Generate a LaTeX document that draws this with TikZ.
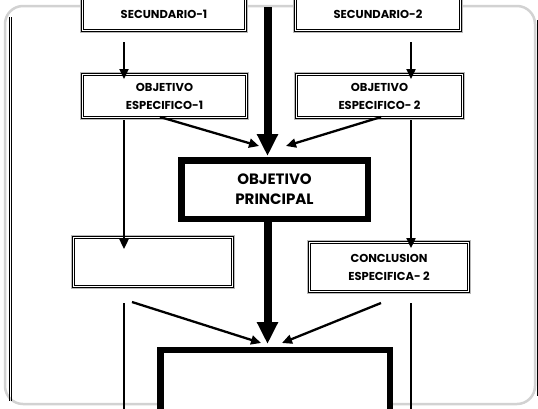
\documentclass[tikz,border=0pt]{standalone}
\usepackage{fontspec}
\setmainfont{Poppins}
\usetikzlibrary{arrows.meta}
\begin{document}
\begin{tikzpicture}[x=1pt,y=-1pt,
  dbox/.style={draw=black, line width=1.1pt, double=white, double distance=1.4pt,
    fill=white, preaction={draw=gray!55, line width=5.4pt}, inner sep=0pt,
    align=center, font=\bfseries\fontsize{11.5}{18}\selectfont},
  tbox/.style={draw=black, line width=6.5pt, fill=white, inner sep=0pt, align=center,
    font=\bfseries\fontsize{15}{20}\selectfont},
  thinarr/.style={draw=black, line width=2.3pt, -{Triangle[length=10pt,width=9pt]}},
  thinline/.style={draw=black, line width=2.3pt},
  thickarr/.style={draw=black, line width=8pt, -{Triangle[length=22pt,width=20pt]}},
  framegray/.style={draw=gray!35, line width=2.5pt, rounded corners=18pt},
  framebk/.style={draw=black, line width=0.9pt}]
\useasboundingbox (0,0) rectangle (538,408);
% frame
\draw[framegray] (5,6) rectangle (535,404);
\coordinate (fl1a) at (9,17);   \coordinate (fl1b) at (9,401);
\coordinate (fl2a) at (11.5,17); \coordinate (fl2b) at (11.5,401);
\coordinate (fra) at (537.5,20); \coordinate (frb) at (537.5,396);
\draw[framebk] (fl1a) -- (fl1b);
\draw[framebk, line width=0.8pt] (fl2a) -- (fl2b);
\draw[framebk] (fra) -- (frb);
% boxes
\node[dbox, minimum width=163pt, minimum height=33pt] (sec1) at (164,14) {SECUNDARIO-1};
\node[dbox, minimum width=165pt, minimum height=33pt] (sec2) at (378,14) {SECUNDARIO-2};
\node[dbox, minimum width=164pt, minimum height=43pt] (oe1) at (164.5,96) {OBJETIVO\\ESPECIFICO-1};
\node[dbox, minimum width=166pt, minimum height=43pt] (oe2) at (379.5,96) {OBJETIVO\\ESPECIFICO- 2};
\node[tbox, minimum width=186.5pt, minimum height=58.5pt] (op) at (274.5,189.5) {OBJETIVO\\PRINCIPAL};
\node[dbox, minimum width=159pt, minimum height=49pt] (lb) at (153,262) {};
\node[dbox, minimum width=159pt, minimum height=49pt] (conc) at (389,267) {CONCLUSION\\ESPECIFICA- 2};
\node[tbox, minimum width=229.5pt, minimum height=120pt] (bot) at (275,410) {};
% connector points
\coordinate (t0) at (267.5,7);
\coordinate (t1) at (267.5,156);
\coordinate (t2) at (267.5,222);
\coordinate (t3) at (267.5,344);
\coordinate (a1) at (124,42);  \coordinate (a2) at (124,79);
\coordinate (b1) at (411,42);  \coordinate (b2) at (411,79);
\coordinate (c1) at (124,120); \coordinate (c2) at (124,249);
\coordinate (d1) at (411,120); \coordinate (d2) at (411,248);
\coordinate (e1) at (160,117); \coordinate (e2) at (259,146);
\coordinate (f1) at (381,117); \coordinate (f2) at (286,146);
\coordinate (g1) at (132,302); \coordinate (g2) at (261,343);
\coordinate (h1) at (381,303); \coordinate (h2) at (282,343);
\coordinate (i1) at (124,303); \coordinate (i2) at (124,412);
\coordinate (j1) at (411,303); \coordinate (j2) at (411,412);
% connectors
\draw[thickarr] (t0) -- (t1);
\draw[thickarr] (t2) -- (t3);
\draw[thinarr] (a1) -- (a2);
\draw[thinarr] (b1) -- (b2);
\draw[thinarr] (c1) -- (c2);
\draw[thinarr] (d1) -- (d2);
\draw[thinarr] (e1) -- (e2);
\draw[thinarr] (f1) -- (f2);
\draw[thinarr] (g1) -- (g2);
\draw[thinarr] (h1) -- (h2);
\draw[thinline] (i1) -- (i2);
\draw[thinline] (j1) -- (j2);
\end{tikzpicture}
\end{document}
